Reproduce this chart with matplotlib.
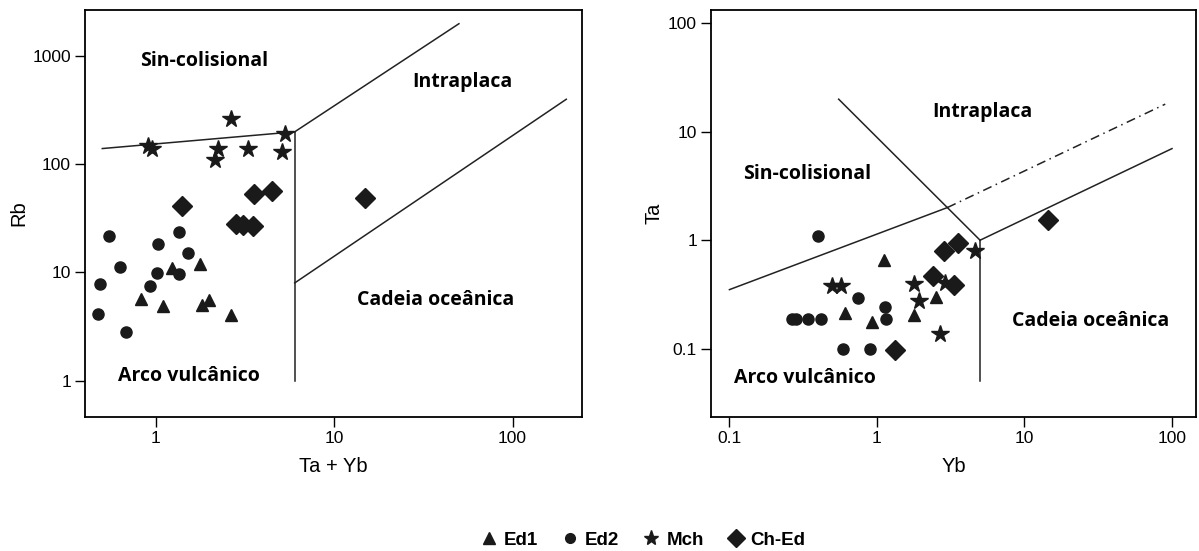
import matplotlib.pyplot as plt
from matplotlib.lines import Line2D

plt.rcParams["font.family"] = ["Liberation Sans", "DejaVu Sans"]

# ---------------------------------------------------------------------------
# Data: Rb vs Ta+Yb (left) and Ta vs Yb (right)
# ---------------------------------------------------------------------------

# Rb x (Ta + Yb)
ed1_tayb = [1.23, 1.76, 0.82, 1.10, 1.81, 1.98, 2.63]
ed1_rb = [11.0, 12.0, 5.7, 4.85, 4.95, 5.58, 4.0]
ed2_tayb = [0.544, 0.483, 0.475, 0.628, 0.683, 1.03, 1.01, 0.92, 1.35, 1.51, 1.35]
ed2_rb = [21.7, 7.74, 4.14, 11.2, 2.8, 18.2, 9.93, 7.47, 23.6, 15.2, 9.72]
mch_tayb = [0.90, 0.95, 2.63, 5.26, 2.23, 2.15, 3.28, 5.08]
mch_rb = [148, 140, 265, 192, 140, 109, 138, 130]
ched_tayb = [1.40, 3.54, 4.46, 14.9, 2.80, 3.09, 3.50]
ched_rb = [41, 53, 57, 49, 27.8, 27.2, 26.9]

# Ta x Yb
ed1_yb = [1.11, 0.61, 0.92, 1.77, 2.53]
ed1_ta = [0.65, 0.215, 0.176, 0.203, 0.30]
ed2_yb = [0.40, 0.74, 0.267, 0.283, 0.34, 0.417, 1.13, 1.15, 0.585, 0.90]
ed2_ta = [1.09, 0.294, 0.187, 0.187, 0.187, 0.187, 0.242, 0.187, 0.10, 0.10]
mch_yb = [0.495, 0.572, 1.77, 1.92, 4.59, 2.67, 2.88]
mch_ta = [0.379, 0.379, 0.398, 0.274, 0.80, 0.136, 0.40]
ched_yb = [3.55, 2.83, 2.41, 3.35, 1.32, 14.4]
ched_ta = [0.95, 0.80, 0.466, 0.385, 0.098, 1.55]

# Pearce et al. (1984) field boundaries
rb_vag_syn = ([0.5, 6], [140, 200])
rb_wpg_syn = ([6, 50], [200, 2000])
rb_vag_org = ([6, 6], [200, 1])
rb_wpg_org = ([6, 200], [8, 400])

ta_vag_syn = ([0.1, 3], [0.35, 2])
ta_vag_syn_ext = ([3, 90], [2, 18])
ta_syn_wpg = ([0.55, 5], [20, 1])
ta_wpg_org = ([5, 100], [1, 7])
ta_vag_org = ([5, 5], [1, 0.05])

groups = ["Ed1", "Ed2", "Mch", "Ch-Ed"]
markers = {"Ed1": ("^", 9), "Ed2": ("o", 8), "Mch": ("*", 13), "Ch-Ed": ("D", 10)}
legend_sizes = {"Ed1": 8, "Ed2": 7, "Mch": 11, "Ch-Ed": 9.5}

field_font = dict(family="Open Sans", fontweight="bold", fontsize=14, ha="center", va="center")


def style_axes(ax, xlim, ylim, xticks, yticks, xlabel, ylabel):
    ax.set_xscale("log")
    ax.set_yscale("log")
    ax.set_xlim(*xlim)
    ax.set_ylim(*ylim)
    ax.set_xticks(xticks)
    ax.set_xticklabels([f"{t:g}" for t in xticks])
    ax.set_yticks(yticks)
    ax.set_yticklabels([f"{t:g}" for t in yticks])
    ax.minorticks_off()
    ax.tick_params(direction="out", length=7, width=1, labelsize=12.5, pad=3)
    for s in ax.spines.values():
        s.set_linewidth(1.3)
    ax.set_xlabel(xlabel, fontsize=14.5, labelpad=8)
    ax.set_ylabel(ylabel, fontsize=14.5, labelpad=3)


def scatter_groups(ax, series):
    for name, (x, y) in zip(groups, series):
        m, ms = markers[name]
        ax.plot(x, y, linestyle="none", marker=m, markersize=ms, color="#1a1a1a",
                markeredgecolor="#1a1a1a")


fig = plt.figure(figsize=(11.99, 5.51), dpi=100)
ax1 = fig.add_axes([0.0709, 0.2432, 0.4145, 0.7387])
ax2 = fig.add_axes([0.593, 0.2432, 0.4047, 0.7387])

# --- Rb vs Ta+Yb ---
for xs, ys in (rb_vag_syn, rb_wpg_syn, rb_vag_org, rb_wpg_org):
    ax1.plot(xs, ys, color="#222222", lw=1.1)
scatter_groups(ax1, [(ed1_tayb, ed1_rb), (ed2_tayb, ed2_rb),
                     (mch_tayb, mch_rb), (ched_tayb, ched_rb)])
ax1.text(1.86, 900, "Sin-colisional", **field_font)
ax1.text(52, 578, "Intraplaca", **field_font)
ax1.text(37, 5.6, "Cadeia oceânica", **field_font)
ax1.text(1.54, 1.09, "Arco vulcânico", **field_font)
style_axes(ax1, (0.4, 245), (0.46, 2680), [1, 10, 100], [1, 10, 100, 1000],
           "Ta + Yb", "Rb")

# --- Ta vs Yb ---
for xs, ys in (ta_vag_syn, ta_syn_wpg, ta_wpg_org, ta_vag_org):
    ax2.plot(xs, ys, color="#222222", lw=1.1)
ax2.plot(*ta_vag_syn_ext, color="#222222", lw=1.1, linestyle=(0, (6, 3, 1, 3)))
scatter_groups(ax2, [(ed1_yb, ed1_ta), (ed2_yb, ed2_ta),
                     (mch_yb, mch_ta), (ched_yb, ched_ta)])
ax2.text(5.17, 15.3, "Intraplaca", **field_font)
ax2.text(0.335, 4.07, "Sin-colisional", **field_font)
ax2.text(28, 0.18, "Cadeia oceânica", **field_font)
ax2.text(0.325, 0.0536, "Arco vulcânico", **field_font)
style_axes(ax2, (0.075, 146), (0.0234, 133), [0.1, 1, 10, 100], [0.1, 1, 10, 100],
           "Yb", "Ta")

handles = [Line2D([], [], linestyle="none", marker=markers[g][0],
                  markersize=legend_sizes[g], color="#1a1a1a") for g in groups]
fig.legend(handles, groups, loc="center", bbox_to_anchor=(0.536, 0.02), ncol=4,
           frameon=False, handletextpad=0.3, columnspacing=1.2,
           prop={"weight": "bold", "size": 13.5}, handlelength=1.0)

fig.savefig("out.png", dpi=100)
